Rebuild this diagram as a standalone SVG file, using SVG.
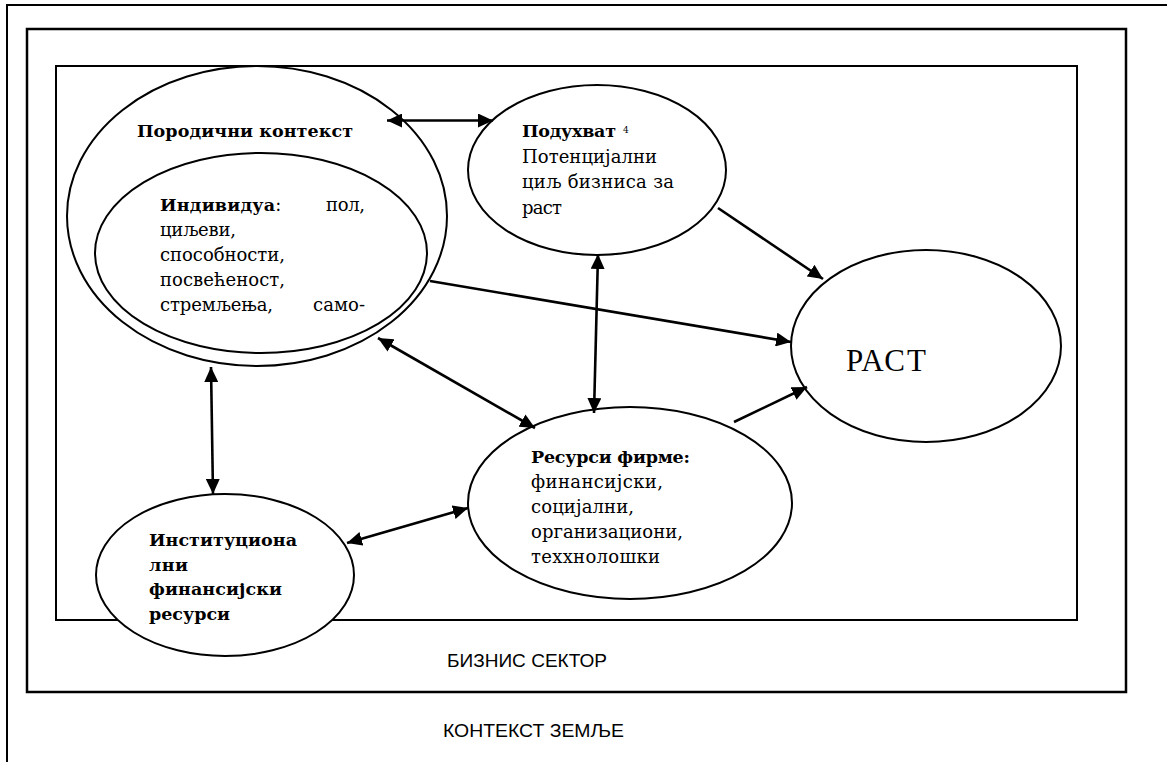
<svg xmlns="http://www.w3.org/2000/svg" width="1167" height="762" viewBox="0 0 1167 762">
<defs>
<marker id="ah" markerUnits="userSpaceOnUse" markerWidth="16" markerHeight="14" refX="15" refY="7" orient="auto-start-reverse">
<path d="M0,0 L15,7 L0,14 z" fill="#000"/>
</marker>
<style>
.frame{fill:none;stroke:#000}
.node{fill:#fff;stroke:#000;stroke-width:2}
.t{font-family:"DejaVu Serif","Liberation Serif",serif;font-size:18px;fill:#000}
.b{font-weight:bold;font-size:17.5px}
.lab{font-family:"Liberation Sans","DejaVu Sans",sans-serif;font-size:19px;fill:#000}
.c{fill:none;stroke:#000;stroke-width:2.6;marker-end:url(#ah)}
.d{marker-start:url(#ah)}
</style>
</defs>
<rect width="1167" height="762" fill="#fff"/>
<g id="frames">
<rect class="frame" x="7" y="5" width="1200" height="800" stroke-width="2" stroke="#222"/>
<rect class="frame" x="27" y="29" width="1099" height="663" stroke-width="2.5"/>
<rect class="frame" x="56" y="66" width="1021" height="554" stroke-width="2"/>
</g>
<g id="labels">
<text class="lab" x="447" y="667" textLength="160" lengthAdjust="spacingAndGlyphs">БИЗНИС СЕКТОР</text>
<text class="lab" x="443" y="737" textLength="181" lengthAdjust="spacingAndGlyphs">КОНТЕКСТ ЗЕМЉЕ</text>
</g>
<g id="porodicni">
<ellipse class="node" cx="257" cy="216" rx="190" ry="150"/>
<text class="t b" x="137" y="137" textLength="216">Породични контекст</text>
</g>
<g id="individua">
<ellipse class="node" cx="261" cy="253" rx="166" ry="100"/>
<text class="t" x="160" y="211"><tspan class="b" textLength="115">Индивидуа</tspan>:</text>
<text class="t" x="326" y="211" textLength="39">пол,</text>
<text class="t" x="160" y="236" textLength="76">циљеви,</text>
<text class="t" x="160" y="261" textLength="125">способности,</text>
<text class="t" x="160" y="286" textLength="125">посвећеност,</text>
<text class="t" x="160" y="311" textLength="113">стремљења,</text>
<text class="t" x="313" y="311" textLength="52">само-</text>
</g>
<g id="poduhvat">
<ellipse class="node" cx="597" cy="170" rx="129" ry="85"/>
<text class="t b" x="522" y="137" textLength="94">Подухват</text>
<text class="t" x="623" y="133" style="font-size:9px">4</text>
<text class="t" x="522" y="163" textLength="135">Потенцијални</text>
<text class="t" x="522" y="188" textLength="152">циљ бизниса за</text>
<text class="t" x="522" y="214" textLength="40">раст</text>
</g>
<g id="rast">
<ellipse class="node" cx="926" cy="346" rx="135" ry="96"/>
<text x="846" y="371" font-family="Liberation Serif, serif" font-size="31" textLength="80">РАСТ</text>
</g>
<g id="resursi">
<ellipse class="node" cx="630" cy="503" rx="162" ry="96"/>
<text class="t b" x="531" y="463" textLength="159">Ресурси фирме:</text>
<text class="t" x="531" y="488" textLength="132">финансијски,</text>
<text class="t" x="531" y="513" textLength="103">социјални,</text>
<text class="t" x="531" y="538" textLength="152">организациони,</text>
<text class="t" x="531" y="563" textLength="129">теххнолошки</text>
</g>
<g id="institucionalni">
<ellipse class="node" cx="225" cy="575" rx="129" ry="81"/>
<text class="t b" x="149" y="546" textLength="148">Институциона</text>
<text class="t b" x="149" y="571" textLength="39">лни</text>
<text class="t b" x="149" y="595" textLength="133">финансијски</text>
<text class="t b" x="149" y="620" textLength="81">ресурси</text>
</g>
<g id="connectors">
<line class="c d" x1="387" y1="120.5" x2="493" y2="120.5"/>
<line class="c d" x1="378" y1="338" x2="535" y2="428"/>
<line class="c d" x1="598" y1="254" x2="594" y2="413"/>
<line class="c d" x1="211" y1="367" x2="213" y2="494"/>
<line class="c d" x1="347" y1="543" x2="468" y2="508"/>
<line class="c" x1="430" y1="281" x2="791" y2="342"/>
<line class="c" x1="718" y1="208" x2="823" y2="279"/>
<line class="c" x1="734" y1="422" x2="807" y2="387"/>
</g>
</svg>
